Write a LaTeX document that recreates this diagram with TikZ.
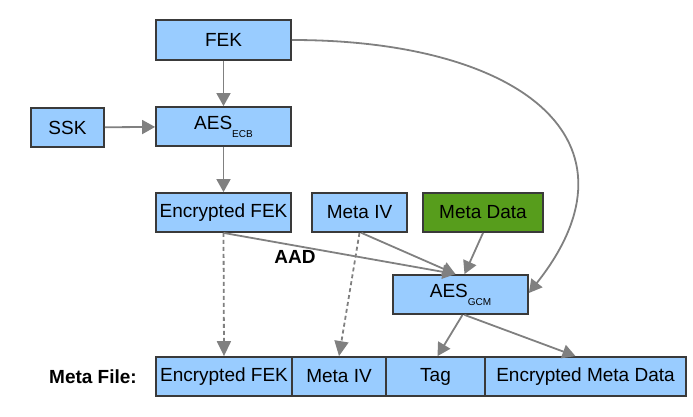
\documentclass[tikz,border=0pt]{standalone}
\usepackage{fontspec}
\setmainfont{Liberation Sans}
\usetikzlibrary{arrows.meta}
\definecolor{boxblue}{HTML}{99CCFF}
\definecolor{boxgreen}{HTML}{579D1C}
\definecolor{boxedge}{HTML}{3A3A3A}
\definecolor{linegray}{HTML}{808080}
\newcommand{\subtxt}[1]{\raisebox{-8pt}{\fontsize{10}{10}\selectfont #1}}
\begin{document}
\begin{tikzpicture}[x=1pt,y=-1pt,
  box/.style={draw=boxedge, line width=1.8pt, fill=boxblue, minimum width=#1,
    minimum height=39pt, inner sep=0pt, font=\fontsize{19}{22}\selectfont},
  arr/.style={draw=linegray, line width=1.8pt, -{Triangle[length=13pt,width=14pt]}},
  darr/.style={draw=linegray, line width=1.8pt, dash pattern=on 4pt off 3pt,
    -{Triangle[length=15pt,width=14pt]}},
  lbl/.style={font=\fontsize{19}{22}\selectfont\bfseries, inner sep=0pt}]
\useasboundingbox (0,0) rectangle (693,417);
% top part
\node[box=135pt, minimum height=40pt] (FEK) at (223.5,40) {FEK};
\node[box=73pt] (SSK) at (67.5,127.5) {SSK};
\node[box=135pt] (AESECB) at (223.5,126.5) {AES\subtxt{ECB}};
\node[box=135pt] (EncFEK) at (223.5,212.5) {Encrypted FEK};
\node[box=95pt] (MetaIV) at (359.5,212.5) {Meta IV};
\node[box=120pt, fill=boxgreen] (MetaData) at (483,212.5) {Meta Data};
\node[box=135pt] (AESGCM) at (460.5,294.5) {AES\subtxt{GCM}};
% meta file row
\node[box=136pt] (EncFEK2) at (224,376.5) {Encrypted FEK};
\node[box=94pt] (MetaIV2) at (339,376.5) {Meta IV};
\node[box=99pt] (Tag) at (435.5,376.5) {Tag};
\node[box=201pt] (EMD) at (585.5,376.5) {Encrypted Meta Data};
\node[lbl, anchor=east] (MF) at (137,376.5) {Meta File:};
\node[lbl] (AAD) at (295,257) {AAD};
% connectors
\draw[arr] (FEK) -- (AESECB);
\draw[arr] (SSK) -- (AESECB);
\draw[arr] (AESECB) -- (EncFEK);
\draw[arr] (EncFEK.south) -- ([xshift=-5pt]AESGCM.north);
\draw[arr] ([xshift=2pt]MetaIV.south) -- ([xshift=-5pt]AESGCM.north);
\draw[arr] (MetaData.south) -- ([xshift=4pt]AESGCM.north);
\draw[arr] (FEK.east) .. controls (520,40) and (650,140) .. ([yshift=1.5pt]AESGCM.east);
\draw[darr] (EncFEK.south) -- (EncFEK2.north);
\draw[darr] (MetaIV.south) -- (MetaIV2.north);
\draw[arr] ([xshift=2pt]AESGCM.south) -- ([xshift=2pt]Tag.north);
\draw[arr] ([xshift=4pt]AESGCM.south) -- ([xshift=-10pt]EMD.north);
\end{tikzpicture}
\end{document}
